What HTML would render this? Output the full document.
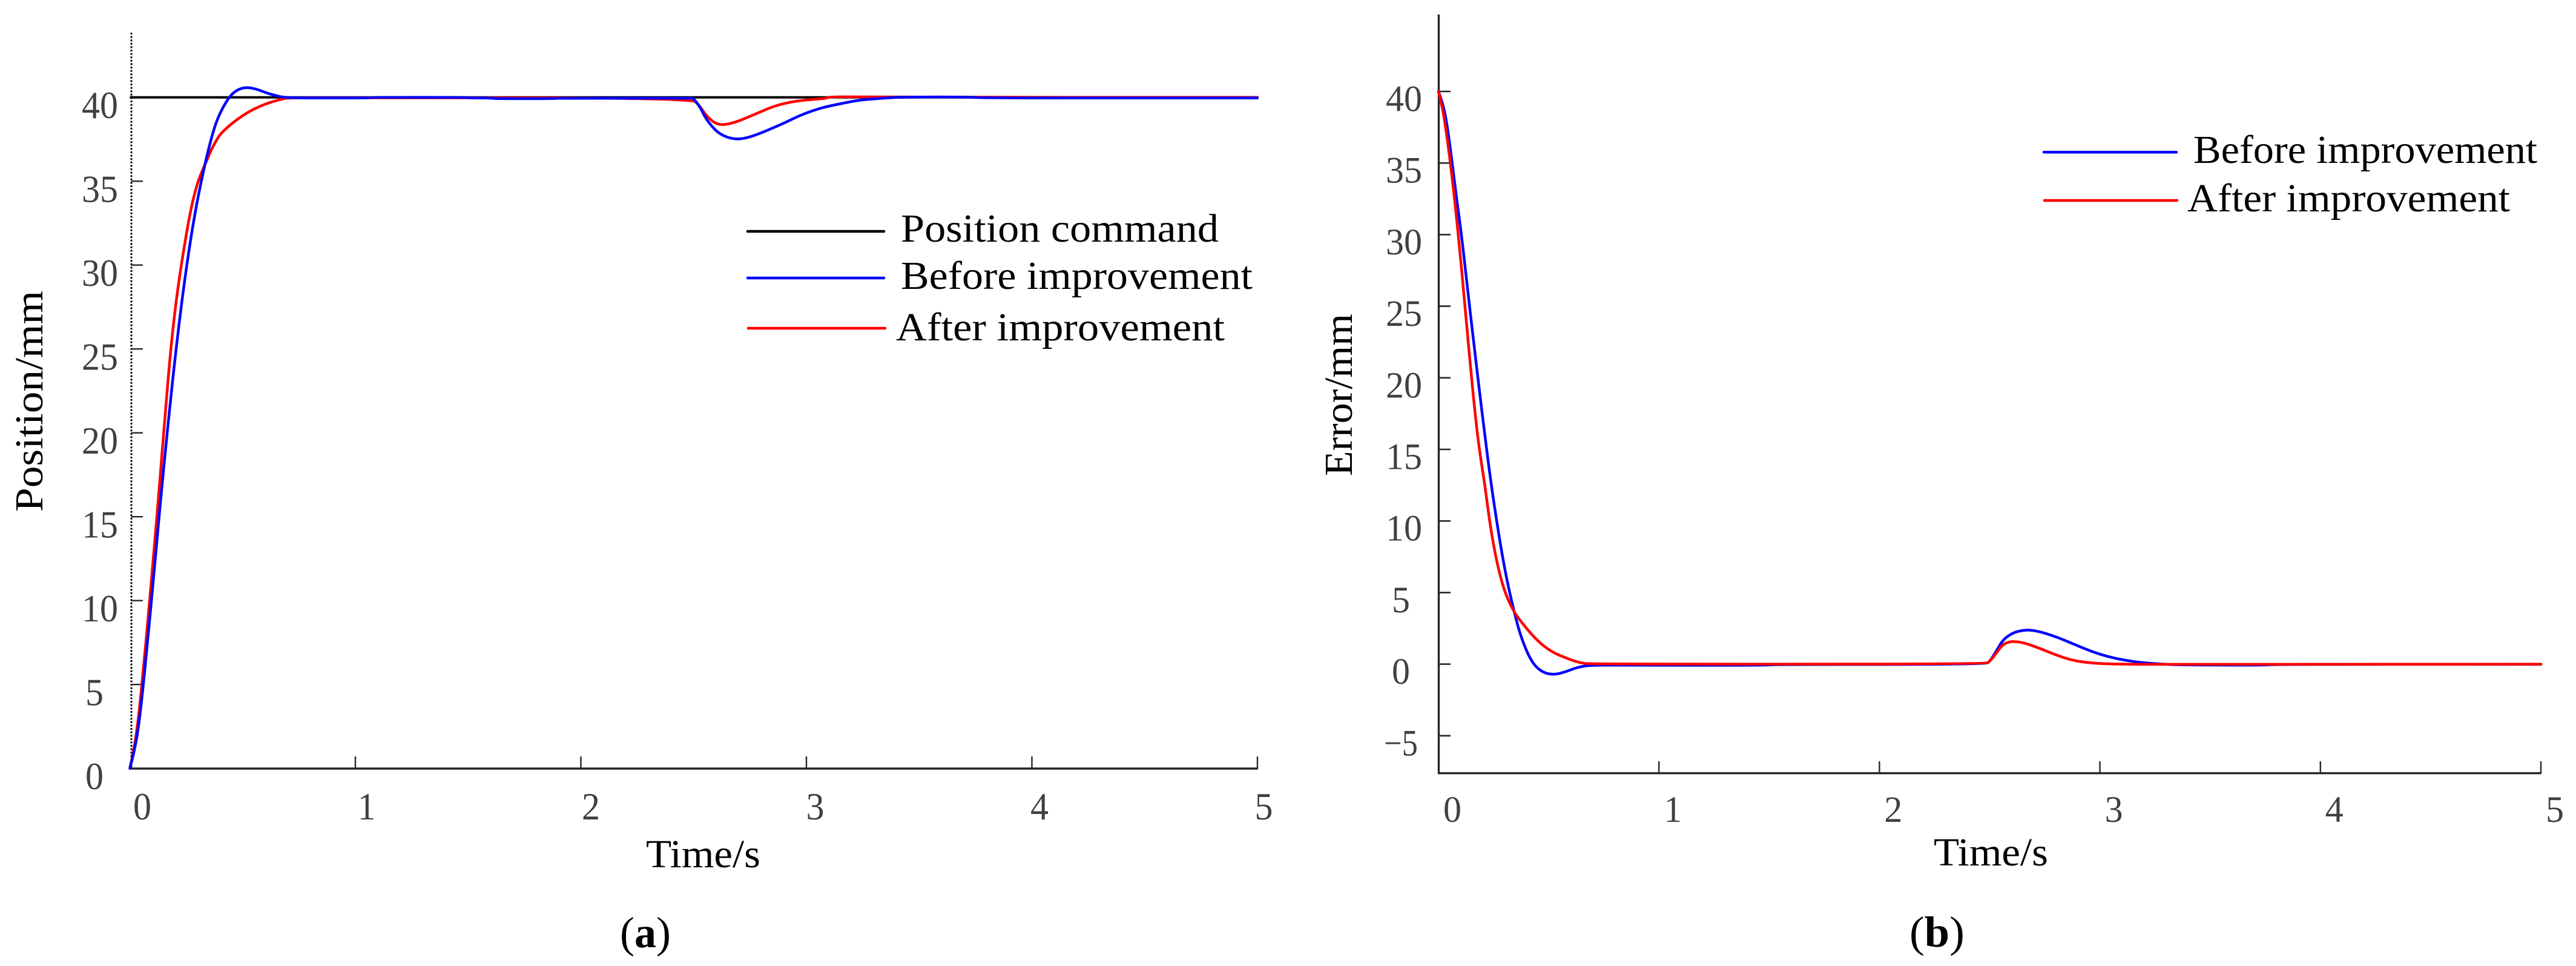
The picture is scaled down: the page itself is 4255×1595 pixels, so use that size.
<!DOCTYPE html>
<html lang="en">
<head>
<meta charset="utf-8">
<title>Position and error response</title>
<style>
html,body{margin:0;padding:0;background:#fff;}
svg{display:block;}
text{font-family:"Liberation Serif",serif;}
.tick{fill:#404040;}
.lab{fill:#000;}
</style>
</head>
<body>
<svg id="fig" xmlns="http://www.w3.org/2000/svg" width="4255" height="1595" viewBox="0 0 4255 1595">
  <rect width="4255" height="1595" fill="#fff"/>
  <g id="panelA">
    <line x1="217" y1="54" x2="217" y2="1269" stroke="#000" stroke-width="3" stroke-dasharray="3 2.6"/>
    <line x1="216" y1="1269" x2="2078" y2="1269" stroke="#262626" stroke-width="3.4"/>
    <text class="lab" transform="translate(70,845) rotate(-90)" font-size="66" textLength="365" lengthAdjust="spacingAndGlyphs">Position/mm</text>
    <text class="lab" x="1067" y="1432" font-size="66" textLength="189" lengthAdjust="spacingAndGlyphs">Time/s</text>
    <text class="lab" x="1024" y="1564" font-size="72" textLength="84" lengthAdjust="spacingAndGlyphs">(<tspan font-weight="bold">a</tspan>)</text>
    <g>
      <line x1="1235" y1="382" x2="1460" y2="382" stroke="#000" stroke-width="4.5" stroke-linecap="round"/>
      <text class="lab" x="1488" y="399" font-size="66" textLength="525" lengthAdjust="spacingAndGlyphs">Position command</text>
      <line x1="1235" y1="459" x2="1460" y2="459" stroke="#0000ff" stroke-width="4.5" stroke-linecap="round"/>
      <text class="lab" x="1488" y="477" font-size="66" textLength="581" lengthAdjust="spacingAndGlyphs">Before improvement</text>
      <line x1="1236" y1="542" x2="1462" y2="542" stroke="#ff0000" stroke-width="4.5" stroke-linecap="round"/>
      <text class="lab" x="1480" y="562" font-size="66" textLength="543" lengthAdjust="spacingAndGlyphs">After improvement</text>
    </g>
  </g>
  <g id="panelB">
    <line x1="2376.5" y1="24" x2="2376.5" y2="1278" stroke="#262626" stroke-width="3.4"/>
    <line x1="2375" y1="1276.7" x2="4197.5" y2="1276.7" stroke="#262626" stroke-width="3.4"/>
    <text class="lab" transform="translate(2233,786) rotate(-90)" font-size="66" textLength="268" lengthAdjust="spacingAndGlyphs">Error/mm</text>
    <text class="lab" x="3194" y="1429" font-size="66" textLength="189" lengthAdjust="spacingAndGlyphs">Time/s</text>
    <text class="lab" x="3154" y="1563" font-size="72" textLength="91" lengthAdjust="spacingAndGlyphs">(<tspan font-weight="bold">b</tspan>)</text>
    <g>
      <line x1="3376" y1="251.3" x2="3595" y2="251.3" stroke="#0000ff" stroke-width="4.5" stroke-linecap="round"/>
      <text class="lab" x="3623" y="269" font-size="66" textLength="568" lengthAdjust="spacingAndGlyphs">Before improvement</text>
      <line x1="3377" y1="331" x2="3596" y2="331" stroke="#ff0000" stroke-width="4.5" stroke-linecap="round"/>
      <text class="lab" x="3613" y="349" font-size="66" textLength="533" lengthAdjust="spacingAndGlyphs">After improvement</text>
    </g>
  </g>
</svg>
<script>
// Shared tick values
var xTickValues = [0, 1, 2, 3, 4, 5];
var yTickValuesA = [0, 5, 10, 15, 20, 25, 30, 35, 40];
var yTickValuesB = [-5, 0, 5, 10, 15, 20, 25, 30, 35, 40];

// Panel (a): position response
var commandTimeA = [0, 5];
var commandValueA = [40, 40];
var beforeTimeA = [0, 0.02, 0.04, 0.06, 0.08, 0.1, 0.12, 0.14, 0.16, 0.18, 0.2, 0.22, 0.24, 0.26, 0.28, 0.3, 0.32, 0.347, 0.381, 0.416, 0.45, 0.484, 0.518, 0.561, 0.604, 0.646, 0.689, 0.79, 1.07, 1.075, 1.49, 1.5, 1.61, 1.612, 1.89, 1.895, 2.49, 2.498, 2.526, 2.553, 2.58, 2.606, 2.642, 2.687, 2.73, 2.785, 2.849, 2.91, 2.964, 3.026, 3.089, 3.178, 3.235, 3.348, 3.43, 3.74, 3.75, 5];
var beforeValueA = [0, 1, 2.6, 5, 7.8, 10.6, 13.6, 16.5, 19.3, 21.9, 24.4, 26.7, 28.8, 30.7, 32.4, 33.9, 35.2, 36.85, 38.5, 39.5, 40.18, 40.5, 40.6, 40.5, 40.27, 40.1, 39.98, 39.96, 39.96, 40, 40, 39.96, 39.96, 39.92, 39.92, 39.95, 39.95, 39.95, 39.48, 38.76, 38.28, 37.92, 37.64, 37.5, 37.56, 37.8, 38.16, 38.52, 38.88, 39.2, 39.45, 39.69, 39.84, 39.96, 40.02, 40.02, 39.96, 39.96];
var afterTimeA = [0, 0.02, 0.04, 0.06, 0.08, 0.1, 0.12, 0.14, 0.16, 0.18, 0.2, 0.22, 0.24, 0.26, 0.28, 0.3, 0.32, 0.34, 0.36, 0.38, 0.4, 0.45, 0.518, 0.587, 0.646, 0.697, 0.79, 2.49, 2.526, 2.553, 2.58, 2.606, 2.637, 2.687, 2.731, 2.794, 2.857, 2.928, 3, 3.09, 3.1, 3.4, 5];
var afterValueA = [0, 1.2, 3.2, 5.9, 8.8, 11.9, 15, 18.3, 21.7, 24.8, 27.3, 29.3, 31, 32.6, 33.9, 34.9, 35.6, 36.2, 36.85, 37.35, 37.8, 38.43, 39.08, 39.54, 39.8, 39.97, 39.97, 39.97, 39.5, 38.97, 38.6, 38.4, 38.36, 38.52, 38.76, 39.12, 39.48, 39.72, 39.85, 39.93, 40.05, 40, 40];

// Panel (b): tracking error
var beforeTimeB = [0, 0.02, 0.04, 0.06, 0.08, 0.106, 0.132, 0.159, 0.185, 0.211, 0.237, 0.262, 0.287, 0.314, 0.342, 0.367, 0.398, 0.43, 0.472, 0.524, 0.577, 0.629, 0.69, 0.85, 1.5, 1.51, 2.48, 2.502, 2.53, 2.557, 2.585, 2.613, 2.65, 2.687, 2.742, 2.816, 2.89, 2.964, 3.037, 3.11, 3.185, 3.277, 3.37, 3.74, 3.79, 5];
var beforeValueB = [40, 39.2, 37.6, 35.3, 32.8, 29.8, 26.2, 22.6, 19.2, 15.9, 12.8, 10.2, 7.8, 5.6, 3.75, 2.26, 0.96, 0, -0.58, -0.75, -0.54, -0.22, -0.06, -0.08, -0.08, -0.02, -0.02, 0.21, 0.91, 1.62, 2, 2.22, 2.37, 2.39, 2.21, 1.83, 1.34, 0.87, 0.52, 0.28, 0.11, 0, -0.05, -0.08, -0.01, -0.01];
var afterTimeB = [0, 0.0187, 0.041, 0.062, 0.08, 0.0975, 0.115, 0.132, 0.15, 0.167, 0.185, 0.21, 0.23, 0.25, 0.27, 0.29, 0.31, 0.342, 0.388, 0.45, 0.513, 0.577, 0.64, 0.69, 2.48, 2.502, 2.53, 2.557, 2.585, 2.613, 2.659, 2.723, 2.797, 2.87, 2.945, 3.04, 3.3, 5];
var afterValueB = [40, 38.9, 36.6, 34, 31.5, 28.8, 25.9, 23, 20, 17.4, 15, 12.6, 10.2, 8.3, 6.8, 5.6, 4.7, 3.65, 2.7, 1.6, 0.86, 0.43, 0.1, 0, 0, 0.21, 0.77, 1.34, 1.55, 1.59, 1.48, 1.13, 0.66, 0.28, 0.1, 0, -0.02, 0];

var NS = 'http://www.w3.org/2000/svg';

// Axis functions
function xA(t) { return 214.5 + 372.5 * t; }
function yA(v) { return 1268.7 - 27.7 * v; }
function xB(t) { return 2376 + 364.2 * t; }
function yB(v) { return 1096.6 - 23.64 * v; }

function makeEl(tag, attrs, parent) {
  var el = document.createElementNS(NS, tag);
  for (var k in attrs) { el.setAttribute(k, attrs[k]); }
  parent.appendChild(el);
  return el;
}

function curvePath(times, values, xf, yf) {
  var pts = times.map(function (t, i) { return [xf(t), yf(values[i])]; });
  var d = 'M' + pts[0][0].toFixed(2) + ' ' + pts[0][1].toFixed(2);
  for (var i = 1; i < pts.length - 1; i++) {
    var mx = (pts[i][0] + pts[i + 1][0]) / 2;
    var my = (pts[i][1] + pts[i + 1][1]) / 2;
    d += 'Q' + pts[i][0].toFixed(2) + ' ' + pts[i][1].toFixed(2) + ' ' + mx.toFixed(2) + ' ' + my.toFixed(2);
  }
  var last = pts[pts.length - 1];
  d += 'L' + last[0].toFixed(2) + ' ' + last[1].toFixed(2);
  return d;
}

function drawCurve(parent, times, values, xf, yf, color, name) {
  var p = makeEl('path', { d: curvePath(times, values, xf, yf), fill: 'none', stroke: color, 'stroke-width': 4.5, 'stroke-linejoin': 'round', 'stroke-linecap': 'round' }, parent);
  
  
}

var panelA = document.getElementById('panelA');
var panelB = document.getElementById('panelB');

// Panel (a) ticks
xTickValues.forEach(function (t) {
  if (t > 0) {
    var tk = makeEl('line', { x1: xA(t), x2: xA(t), y1: 1269, y2: 1249, stroke: '#262626', 'stroke-width': 2.4 }, panelA);
    
    
  }
  var lb = makeEl('text', { x: 235 + 370.5 * t, y: 1353, 'font-size': 64, 'text-anchor': 'middle', 'class': 'tick', textLength: 30, lengthAdjust: 'spacingAndGlyphs' }, panelA);
  lb.textContent = String(t);
  
  
});
yTickValuesA.forEach(function (v) {
  if (v > 0) {
    var tk = makeEl('line', { x1: 217, x2: 236, y1: yA(v), y2: yA(v), stroke: '#262626', 'stroke-width': 2.4 }, panelA);
    
    
  }
  var lb = makeEl('text', { x: v < 10 ? 141 : 135, y: yA(v) + 34.5, 'font-size': 64, 'class': 'tick', textLength: v < 10 ? 30 : 60, lengthAdjust: 'spacingAndGlyphs' }, panelA);
  lb.textContent = String(v);
  
  
});

// Panel (a) series
var cmdA = makeEl('line', { x1: xA(commandTimeA[0]), x2: xA(commandTimeA[1]), y1: yA(commandValueA[0]), y2: yA(commandValueA[1]), stroke: '#000', 'stroke-width': 4 }, panelA);


drawCurve(panelA, afterTimeA, afterValueA, xA, yA, '#ff0000', 'after-improvement-line-a');
drawCurve(panelA, beforeTimeA, beforeValueA, xA, yA, '#0000ff', 'before-improvement-line-a');

// Panel (b) ticks
xTickValues.forEach(function (t) {
  if (t > 0) {
    var tk = makeEl('line', { x1: xB(t), x2: xB(t), y1: 1277, y2: 1257, stroke: '#262626', 'stroke-width': 2.4 }, panelB);
    
    
  }
  var lb = makeEl('text', { x: xB(t) + 23, y: 1357, 'font-size': 61, 'text-anchor': 'middle', 'class': 'tick', textLength: 30, lengthAdjust: 'spacingAndGlyphs' }, panelB);
  lb.textContent = String(t);
  
  
});
yTickValuesB.forEach(function (v) {
  var tk = makeEl('line', { x1: 2376, x2: 2396, y1: yB(v), y2: yB(v), stroke: '#262626', 'stroke-width': 2.6 }, panelB);
  
  
  var single = v >= 0 && v < 10;
  var lb = makeEl('text', { x: v < 0 ? 2286 : (single ? 2299 : 2289), y: yB(v) + 32.5, 'font-size': 61, 'class': 'tick', textLength: v < 0 ? 56 : (single ? 30 : 60), lengthAdjust: 'spacingAndGlyphs' }, panelB);
  lb.textContent = v < 0 ? '\u2212' + Math.abs(v) : String(v);
  
  
});

// Panel (b) series
drawCurve(panelB, beforeTimeB, beforeValueB, xB, yB, '#0000ff', 'before-improvement-line-b');
drawCurve(panelB, afterTimeB, afterValueB, xB, yB, '#ff0000', 'after-improvement-line-b');
</script>
</body>
</html>
